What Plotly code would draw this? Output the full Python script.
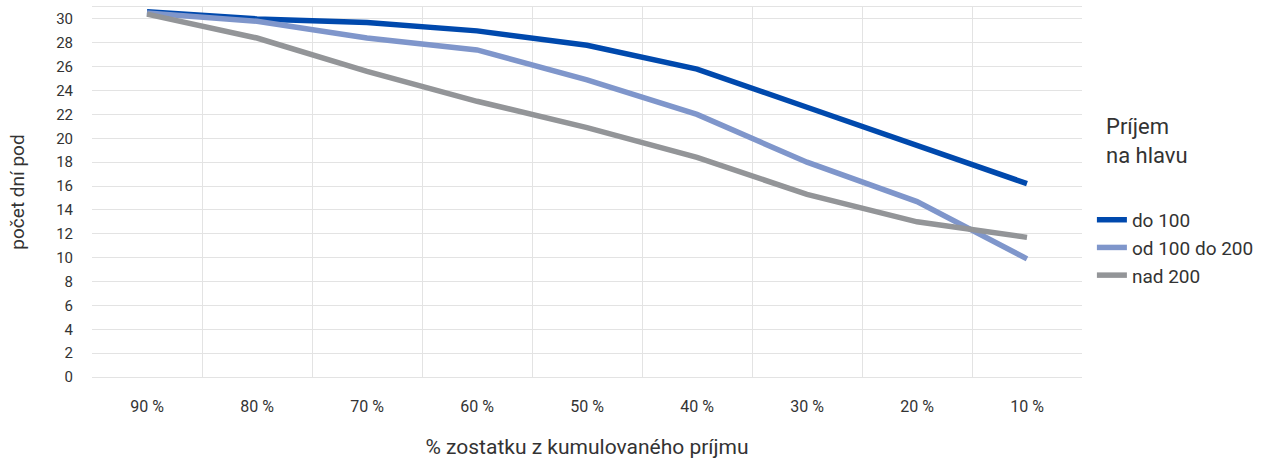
import plotly.graph_objects as go

categories = ["90 %", "80 %", "70 %", "60 %", "50 %", "40 %", "30 %", "20 %", "10 %"]
do_100 = [30.6, 30.0, 29.7, 29.0, 27.8, 25.8, 22.6, 19.4, 16.2]
od_100_do_200 = [30.5, 29.8, 28.4, 27.4, 24.9, 22.0, 18.0, 14.7, 9.9]
nad_200 = [30.4, 28.4, 25.6, 23.1, 20.9, 18.4, 15.3, 13.0, 11.7]

series = [
    ("do 100", do_100, "#0049AD"),
    ("od 100 do 200", od_100_do_200, "#7F96CB"),
    ("nad 200", nad_200, "#939598"),
]

legend_title = "Príjem<br>na hlavu"

font_family = "Roboto, Noto Sans, sans-serif"
text_color = "#333333"

fig = go.Figure()
for i, (name, vals, color) in enumerate(series):
    fig.add_trace(go.Scatter(
        x=categories, y=vals, name=name, mode="lines",
        legendgroup=f"g{i}",
        line=dict(color=color, width=5.5),
    ))

fig.add_annotation(
    text=legend_title, xref="paper", yref="paper",
    x=1.022, y=0.717, xanchor="left", yanchor="top",
    align="left", showarrow=False,
    font=dict(size=22, color=text_color),
)

fig.update_layout(
    width=1261, height=459,
    margin=dict(l=92, r=179, t=7, b=82, autoexpand=False),
    paper_bgcolor="white", plot_bgcolor="white",
    font=dict(family=font_family, color=text_color),
    legend=dict(
        x=1.010, xanchor="left", y=0.476, yanchor="top",
        font=dict(size=19, color=text_color),
        itemwidth=30, tracegroupgap=6, traceorder="normal",
        bgcolor="rgba(0,0,0,0)",
    ),
    xaxis=dict(
        type="category", tickson="boundaries",
        showgrid=True, gridcolor="#E3E3E3", gridwidth=1,
        showline=True, linecolor="#E3E3E3", mirror=True,
        ticks="", tickfont=dict(size=16, color=text_color),
        ticklabelstandoff=15,
        title=dict(text="% zostatku z kumulovaného príjmu", font=dict(size=21, color=text_color), standoff=24),
        range=[-0.5, 8.5],
    ),
    yaxis=dict(
        range=[0, 31], dtick=2, tick0=0,
        showgrid=True, gridcolor="#E3E3E3", gridwidth=1,
        zeroline=False, showline=False,
        ticks="", tickfont=dict(size=15, color=text_color),
        ticklabelstandoff=18,
        title=dict(text="počet dní pod", font=dict(size=19, color=text_color), standoff=26),
    ),
)

fig.write_html("out.html", config={"displayModeBar": False},
               post_script="document.body.style.margin='0';")
